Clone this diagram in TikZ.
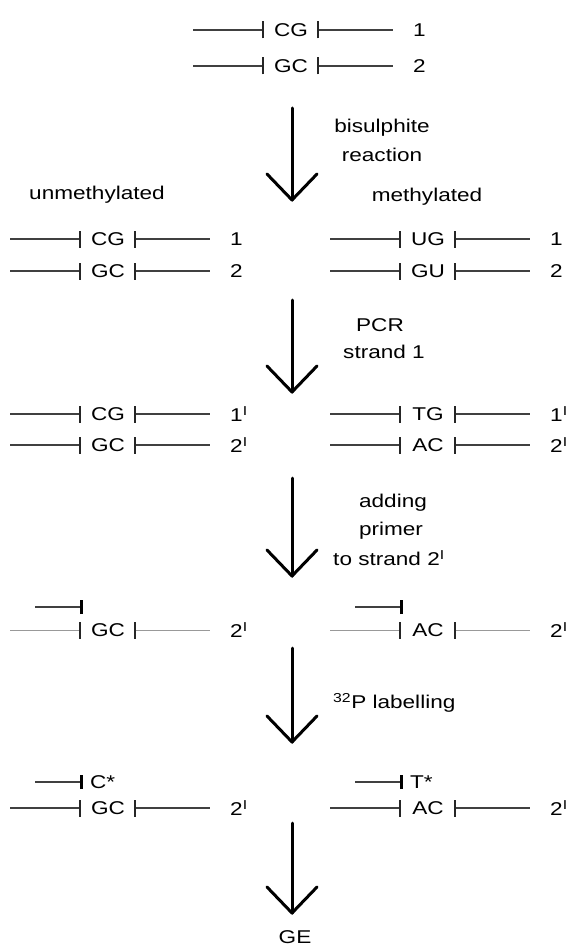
\documentclass[tikz,border=0pt]{standalone}
\usepackage{fontspec}
\setmainfont{Liberation Sans}[FakeStretch=1.22]
\usetikzlibrary{calc}

% superscript "I" used as the prime mark on strand numbers
\newcommand\primesup{\textsuperscript{I}}

% one double-strand row: name, x start, y, middle text, strand label, line style
\newcommand\duplexrow[6]{%
  \begin{scope}[shift={(#2,#3)}]
    \coordinate (#1-s) at (0,0);
    \coordinate (#1-l) at (70,0);
    \node[basetext] (#1-t) at (98,0) {#4};
    \coordinate (#1-r) at (125,0);
    \coordinate (#1-e) at (200,0);
    \node[basetext, anchor=west] (#1-n) at (220,0) {#5};
    \draw[#6] (#1-s) -- (#1-l);
    \draw[#6] (#1-r) -- (#1-e);
    \draw[endtick] ([yshift=-8.5pt]#1-l) -- ([yshift=8.5pt]#1-l);
    \draw[endtick] ([yshift=-8.5pt]#1-r) -- ([yshift=8.5pt]#1-r);
  \end{scope}}

% primer row: name, x start, y, optional extension text
\newcommand\primerrow[4]{%
  \begin{scope}[shift={(#2,#3)}]
    \coordinate (#1-s) at (25,0);
    \coordinate (#1-e) at (71,0);
    \draw[strandline] (#1-s) -- (#1-e);
    \draw[primerend] ([yshift=-7pt]#1-e) -- ([yshift=7pt]#1-e);
    \node[basetext, anchor=west] (#1-t) at (80,0) {#4};
  \end{scope}}

% big downward process arrow: name, y top, y tip
\newcommand\bigdown[3]{%
  \coordinate (#1-top) at (292,#2);
  \coordinate (#1-tip) at (292,#3);
  \coordinate (#1-l) at ($(#1-tip)+(-25,-26)$);
  \coordinate (#1-r) at ($(#1-tip)+(25,-26)$);
  \draw[bigarrow] (#1-top) -- (#1-tip);
  \draw[bigarrow] (#1-l) -- (#1-tip) -- (#1-r);}

\begin{document}
\begin{tikzpicture}[x=1pt, y=-1pt,
  basetext/.style={font=\fontsize{18.5}{22}\selectfont, inner sep=0pt},
  steptext/.style={basetext, align=center},
  strandline/.style={draw=black!75, line width=1.2pt},
  faintline/.style={draw=black!40, line width=1pt},
  endtick/.style={draw=black!85, line width=1.4pt},
  primerend/.style={draw=black, line width=3pt},
  bigarrow/.style={draw=black, line width=3pt, line cap=round, line join=round}]
  \useasboundingbox (0,0) rectangle (572,947);

  % starting duplex
  \duplexrow{t1}{193}{30}{CG}{1}{strandline}
  \duplexrow{t2}{193}{66}{GC}{2}{strandline}

  \bigdown{a1}{108}{200}
  \node[steptext] (l1a) at (382,128) {bisulphite};
  \node[steptext] (l1b) at (382,155) {reaction};

  \node[basetext] (unm) at (97,195) {unmethylated};
  \node[basetext] (met) at (427,197) {methylated};

  % after bisulphite treatment
  \duplexrow{u1}{10}{239}{CG}{1}{strandline}
  \duplexrow{u2}{10}{271}{GC}{2}{strandline}
  \duplexrow{m1}{330}{239}{UG}{1}{strandline}
  \duplexrow{m2}{330}{271}{GU}{2}{strandline}

  \bigdown{a2}{300}{392}
  \node[steptext] (l2a) at (380,325) {PCR};
  \node[steptext] (l2b) at (384,352) {strand 1};

  % after PCR
  \duplexrow{p1}{10}{414}{CG}{1\primesup}{strandline}
  \duplexrow{p2}{10}{445}{GC}{2\primesup}{strandline}
  \duplexrow{q1}{330}{414}{TG}{1\primesup}{strandline}
  \duplexrow{q2}{330}{445}{AC}{2\primesup}{strandline}

  \bigdown{a3}{478}{576}
  \node[steptext] (l3a) at (393,503) {adding};
  \node[steptext] (l3b) at (391,531) {primer};
  \node[steptext] (l3c) at (389,558) {to strand 2\primesup};

  % primer annealed to strand 2'
  \primerrow{pu}{10}{607}{}
  \duplexrow{r1}{10}{630}{GC}{2\primesup}{faintline}
  \primerrow{pm}{330}{607}{}
  \duplexrow{r2}{330}{630}{AC}{2\primesup}{faintline}

  \bigdown{a4}{648}{742}
  \node[basetext, anchor=west] (l4) at (333,703) {\textsuperscript{32}P labelling};

  % labelled extension
  \primerrow{cu}{10}{782}{C*}
  \duplexrow{s1}{10}{808}{GC}{2\primesup}{strandline}
  \primerrow{cm}{330}{782}{T*}
  \duplexrow{s2}{330}{808}{AC}{2\primesup}{strandline}

  \bigdown{a5}{823}{913}
  \node[basetext] (ge) at (295,937) {GE};
\end{tikzpicture}
\end{document}
